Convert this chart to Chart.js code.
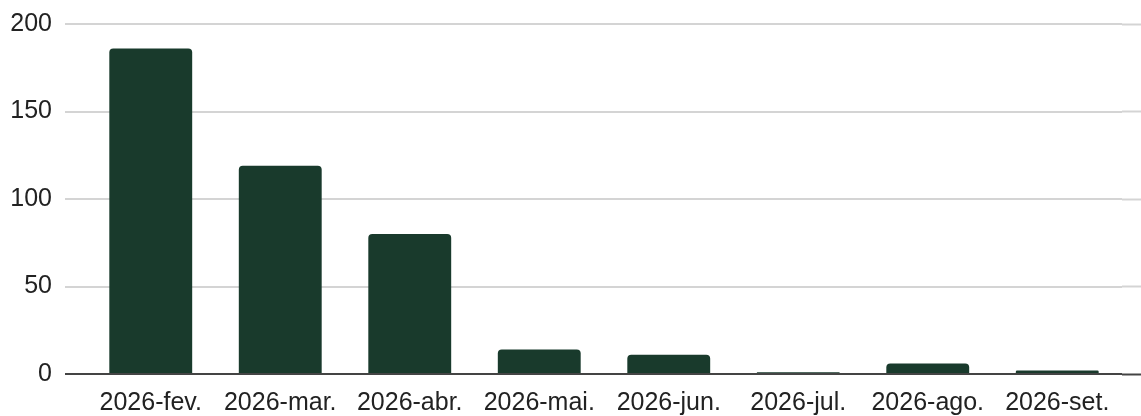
<!DOCTYPE html>
<html>
<head>
<meta charset="utf-8">
<script src="https://cdn.jsdelivr.net/npm/chart.js@4.4.1/dist/chart.umd.min.js"></script>
<style>
  html, body { margin: 0; padding: 0; background: #ffffff; }
  #wrap { width: 1141px; height: 416px; }
</style>
</head>
<body>
<div id="wrap"><canvas id="c" width="1141" height="416"></canvas></div>
<script>
const categories = ['2026-fev.', '2026-mar.', '2026-abr.', '2026-mai.', '2026-jun.', '2026-jul.', '2026-ago.', '2026-set.'];
const values = [186, 119, 80, 14, 11, 1, 6, 2];
const yTicks = [0, 50, 100, 150, 200];

const FONT = { family: '"Liberation Sans", Arial, sans-serif', size: 25 };
const TEXT = '#222222';
const GRID = '#d4d4d4';
const ZERO = '#444444';

const gridColor = (c) => (c.tick && c.tick.value === 0 ? ZERO : GRID);
const gridWidth = (c) => 2;

new Chart(document.getElementById('c'), {
  type: 'bar',
  data: {
    labels: categories,
    datasets: [{
      data: values,
      backgroundColor: '#193a2c',
      borderRadius: { topLeft: 4, topRight: 4 },
      borderSkipped: 'start',
      categoryPercentage: 1,
      barPercentage: 0.64
    }]
  },
  options: {
    responsive: false,
    animation: false,
    events: [],
    layout: { padding: { top: 24, left: 0, right: 0, bottom: 0 } },
    plugins: { legend: { display: false }, tooltip: { enabled: false }, title: { display: false } },
    scales: {
      x: {
        offset: true,
        afterFit: (s) => { s.height = 42; s.paddingLeft = 0; s.paddingRight = 0; },
        grid: { display: false, drawTicks: false },
        border: { display: false },
        ticks: { color: TEXT, font: FONT, padding: 14, maxRotation: 0, autoSkip: false }
      },
      y: {
        position: 'left',
        min: 0,
        max: 200,
        afterBuildTicks: (s) => { s.ticks = yTicks.map(v => ({ value: v })); },
        afterFit: (s) => { s.width = 86; s.paddingTop = 0; s.paddingBottom = 0; },
        border: { display: false },
        grid: {
          color: gridColor,
          tickColor: gridColor,
          lineWidth: gridWidth,
          tickWidth: gridWidth,
          drawTicks: true,
          tickLength: 21
        },
        ticks: { color: TEXT, font: FONT, padding: 13 }
      },
      y2: {
        position: 'right',
        min: 0,
        max: 200,
        afterBuildTicks: (s) => { s.ticks = yTicks.map(v => ({ value: v })); },
        afterFit: (s) => { s.width = 19; s.paddingTop = 0; s.paddingBottom = 0; },
        border: { display: false },
        grid: {
          drawOnChartArea: false,
          drawTicks: true,
          tickLength: 19,
          tickColor: gridColor,
          tickWidth: gridWidth
        },
        ticks: { display: false }
      }
    }
  }
});
</script>
</body>
</html>
